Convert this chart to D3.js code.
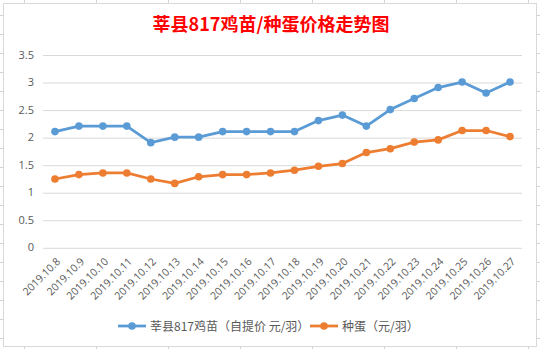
<!DOCTYPE html>
<html><head><meta charset="utf-8">
<script src="https://cdn.jsdelivr.net/npm/d3@7"></script>
<style>body{margin:0;background:#fff}svg{display:block}</style>
</head><body>
<script>
const categories = ["2019.10.8","2019.10.9","2019.10.10","2019.10.11","2019.10.12","2019.10.13","2019.10.14","2019.10.15","2019.10.16","2019.10.17","2019.10.18","2019.10.19","2019.10.20","2019.10.21","2019.10.22","2019.10.23","2019.10.24","2019.10.25","2019.10.26","2019.10.27"];
const chickValues = [2.1,2.2,2.2,2.2,1.9,2.0,2.0,2.1,2.1,2.1,2.1,2.3,2.4,2.2,2.5,2.7,2.9,3.0,2.8,3.0];
const eggValues = [1.24,1.32,1.35,1.35,1.24,1.16,1.28,1.32,1.32,1.35,1.40,1.47,1.52,1.72,1.79,1.91,1.95,2.12,2.12,2.01];
const yTicks = [0,0.5,1,1.5,2,2.5,3,3.5];
const seriesNames = ["莘县817鸡苗（自提价 元/羽）","种蛋（元/羽）"];
const seriesColors = ["#5B9BD5","#ED7D31"];
const title = "莘县817鸡苗/种蛋价格走势图";

const W=540,H=349;
const svg=d3.select("body").append("svg").attr("width",W).attr("height",H);
// sheet gridline marks outside chart
const g0=svg.append("g").attr("stroke","#D4D4D4").attr("stroke-width",1);
for(let x=24.5;x<W;x+=72){g0.append("line").attr("x1",x).attr("x2",x).attr("y1",0).attr("y2",3);g0.append("line").attr("x1",x).attr("x2",x).attr("y1",347).attr("y2",H);}
for(let y=15.5;y<H;y+=19){g0.append("line").attr("x1",0).attr("x2",3).attr("y1",y).attr("y2",y);g0.append("line").attr("x1",537).attr("x2",W).attr("y1",y).attr("y2",y);}
svg.append("rect").attr("x",3.5).attr("y",3.5).attr("width",533).attr("height",343).attr("fill","#fff").attr("stroke","#D9D9D9");

const x=d3.scaleBand().domain(categories).range([43,522]);
const y=d3.scaleLinear().domain([0,3.5]).range([247.3,54.5]);
const cx=d=>x(d)+x.bandwidth()/2;

// y gridlines & labels
const ya=svg.append("g").attr("transform","translate(43,0)")
  .call(d3.axisLeft(y).tickValues(yTicks).tickSize(-479).tickPadding(9).tickFormat(d=>String(d)));
ya.select(".domain").remove();
ya.selectAll(".tick line").attr("stroke","#D9D9D9").attr("transform","translate(0,0.5)");
ya.selectAll(".tick text").attr("fill","#595959").style("font-family","'Open Sans','Liberation Sans',sans-serif").style("font-size","11px");

// x labels
const xa=svg.append("g").attr("transform","translate(0,247.3)")
  .call(d3.axisBottom(x).tickSize(0).tickPadding(0));
xa.select(".domain").remove();
xa.selectAll(".tick text").attr("fill","#595959").style("font-family","'Open Sans','Liberation Sans',sans-serif").style("font-size","10.5px")
  .attr("text-anchor","end").attr("dy",0).attr("y",0)
  .attr("transform","translate(6,15) rotate(-45)");

// series
const series=[chickValues,eggValues];
series.forEach((vals,i)=>{
  const line=d3.line().x((d,j)=>cx(categories[j])).y(d=>y(d));
  svg.append("path").datum(vals).attr("d",line).attr("fill","none").attr("stroke",seriesColors[i]).attr("stroke-width",2.75).attr("stroke-linejoin","round").attr("stroke-linecap","round");
  svg.append("g").selectAll("circle").data(vals).join("circle")
    .attr("cx",(d,j)=>cx(categories[j])).attr("cy",d=>y(d)).attr("r",3.8).attr("fill",seriesColors[i]);
});

// title
svg.append("text").attr("x",271).attr("y",31).attr("text-anchor","middle").attr("fill","#FF0000")
  .style("font-family","'Noto Sans CJK SC',sans-serif").style("font-weight","bold").style("font-size","18px").text(title);

// legend
const legX=[118,310], legY=326;
seriesNames.forEach((n,i)=>{
  const lg=svg.append("g");
  lg.append("line").attr("x1",legX[i]).attr("x2",legX[i]+28).attr("y1",legY).attr("y2",legY).attr("stroke",seriesColors[i]).attr("stroke-width",2.75);
  lg.append("circle").attr("cx",legX[i]+14).attr("cy",legY).attr("r",3.8).attr("fill",seriesColors[i]);
  lg.append("text").attr("x",legX[i]+32).attr("y",legY+4.5).attr("fill","#595959")
    .style("font-family","'Noto Sans CJK SC',sans-serif").style("font-size","12px").text(n);
});
</script>
</body></html>
